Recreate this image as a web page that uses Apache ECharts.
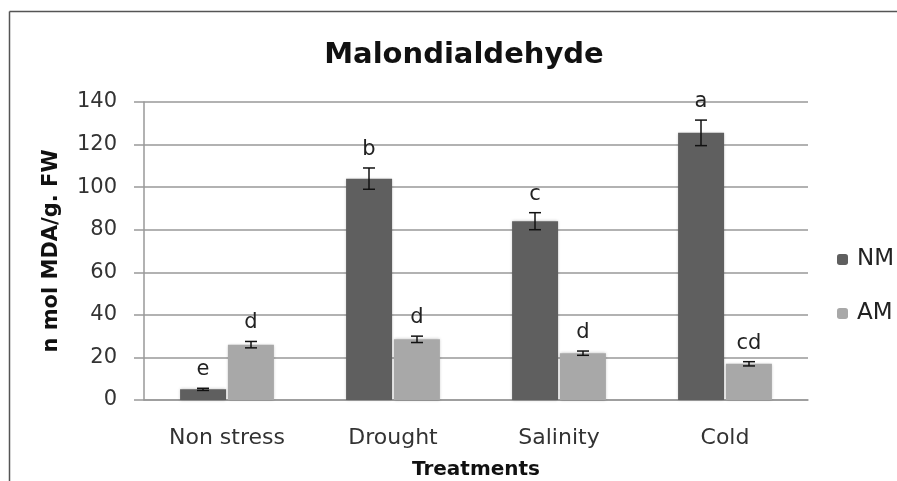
<!DOCTYPE html>
<html>
<head>
<meta charset="utf-8">
<script src="https://cdn.jsdelivr.net/npm/echarts@6/dist/echarts.min.js"></script>
<style>
html, body { margin: 0; padding: 0; background: #fff; overflow: hidden; }
#main { width: 897px; height: 481px; }
</style>
</head>
<body>
<div id="main"></div>
<script>
var categories = ['Non stress', 'Drought', 'Salinity', 'Cold'];
var nmValues = [5, 104, 84, 125.5];
var amValues = [26, 28.5, 22, 17];
var nmErrors = [0.5, 5, 4, 6];
var amErrors = [1.5, 1.5, 1, 1];
var nmLetters = ['e', 'b', 'c', 'a'];
var amLetters = ['d', 'd', 'd', 'cd'];

var font = 'DejaVu Sans';

// error bar rows: [category index, low, high]
function errRows(values, errors) {
    var rows = [];
    for (var i = 0; i < values.length; i++) {
        rows.push([i, values[i] - errors[i], values[i] + errors[i]]);
    }
    return rows;
}

function errorBars(offset, letters) {
    return function (params, api) {
        var x = api.value(0);
        var lo = api.coord([x, api.value(1)]);
        var hi = api.coord([x, api.value(2)]);
        var cx = lo[0] + offset;
        var half = 6;
        var st = { stroke: '#111', lineWidth: 1.5 };
        return {
            type: 'group',
            children: [
                { type: 'line', shape: { x1: cx, y1: hi[1], x2: cx, y2: lo[1] }, style: st },
                { type: 'line', shape: { x1: cx - half, y1: hi[1], x2: cx + half, y2: hi[1] }, style: st },
                { type: 'line', shape: { x1: cx - half, y1: lo[1], x2: cx + half, y2: lo[1] }, style: st },
                {
                    type: 'text', x: cx, y: hi[1] - 8,
                    style: {
                        text: letters[params.dataIndex],
                        fontFamily: font, fontSize: 21, fill: '#222',
                        textAlign: 'center', textVerticalAlign: 'bottom'
                    }
                }
            ]
        };
    };
}

var myChart = echarts.init(document.getElementById('main'));
var option = {
    backgroundColor: '#fff',
    animation: false,
    title: {
        text: 'Malondialdehyde',
        left: 459,
        top: 36,
        textAlign: 'center',
        textStyle: { fontFamily: font, fontSize: 29, fontWeight: 'bold', color: '#111' }
    },
    graphic: [
        {
            type: 'line',
            shape: { x1: 9.5, y1: 11.5, x2: 897, y2: 11.5 },
            style: { stroke: '#555', lineWidth: 1.5 },
            silent: true
        },
        {
            type: 'line',
            shape: { x1: 9.5, y1: 11.5, x2: 9.5, y2: 481 },
            style: { stroke: '#555', lineWidth: 1.5 },
            silent: true
        }
    ],
    legend: {
        orient: 'vertical',
        left: 837,
        top: 248,
        padding: 0,
        itemWidth: 11,
        itemHeight: 11,
        itemGap: 31,
        data: ['NM', 'AM'],
        textStyle: { fontFamily: font, fontSize: 23, color: '#222', padding: [0, 0, 0, 4] }
    },
    grid: { left: 144, right: 89, top: 102, bottom: 81, outerBoundsMode: 'none' },
    xAxis: {
        type: 'category',
        data: categories,
        name: 'Treatments',
        nameLocation: 'middle',
        nameGap: 60,
        nameTextStyle: { fontFamily: font, fontSize: 20, fontWeight: 'bold', color: '#111' },
        axisLine: { lineStyle: { color: '#999', width: 1.5 } },
        axisTick: { show: false },
        axisLabel: { fontFamily: font, fontSize: 22, color: '#333', margin: 27 }
    },
    yAxis: {
        type: 'value',
        min: 0,
        max: 140,
        interval: 20,
        name: 'n mol MDA/g. FW',
        nameLocation: 'middle',
        nameGap: 82,
        nameTextStyle: { fontFamily: font, fontSize: 21, fontWeight: 'bold', color: '#111' },
        axisLine: { show: true, lineStyle: { color: '#999', width: 1.5 } },
        axisTick: { show: true, length: 10, lineStyle: { color: '#999', width: 1.5 } },
        splitLine: { lineStyle: { color: '#999', width: 1.5 } },
        axisLabel: { fontFamily: font, fontSize: 21, color: '#333', margin: 27 }
    },
    series: [
        {
            name: 'NM',
            type: 'bar',
            data: nmValues,
            barWidth: 46,
            barGap: '4%',
            itemStyle: { color: '#5f5f5f', shadowBlur: 3, shadowColor: 'rgba(0,0,0,0.25)' }
        },
        {
            name: 'AM',
            type: 'bar',
            data: amValues,
            barWidth: 46,
            itemStyle: { color: '#a8a8a8', shadowBlur: 3, shadowColor: 'rgba(0,0,0,0.25)' }
        },
        {
            type: 'custom',
            data: errRows(nmValues, nmErrors),
            renderItem: errorBars(-24, nmLetters),
            z: 5,
            silent: true
        },
        {
            type: 'custom',
            data: errRows(amValues, amErrors),
            renderItem: errorBars(24, amLetters),
            z: 5,
            silent: true
        }
    ]
};

if (option && typeof option === 'object') {
    myChart.setOption(option, true);
}
</script>
</body>
</html>
